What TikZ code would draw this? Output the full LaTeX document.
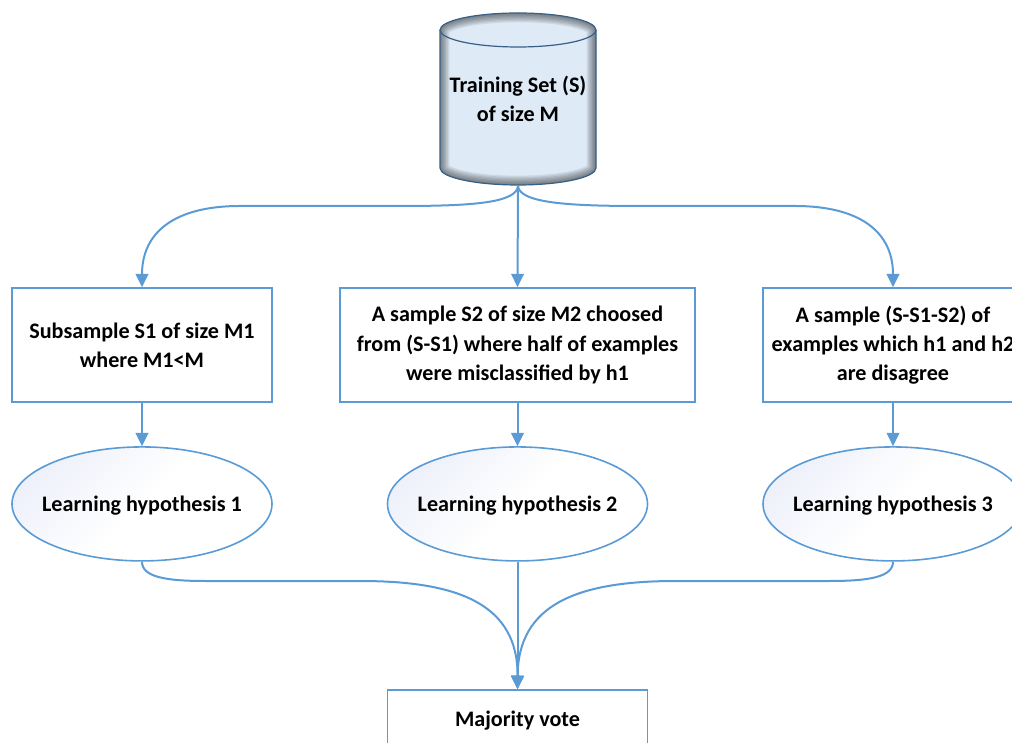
\documentclass[tikz,border=0pt]{standalone}
\usepackage{fontspec}
\setmainfont{Carlito}
\usetikzlibrary{arrows.meta, positioning, shapes.geometric}
\definecolor{linkcolor}{RGB}{91,155,213}
\definecolor{drumcolor}{RGB}{222,234,246}
\definecolor{drumline}{RGB}{55,96,135}
\definecolor{hypcolor}{RGB}{238,241,250}

\begin{document}
\begin{tikzpicture}[x=0.75pt, y=0.75pt,
    % Styles
    label text/.style={font=\fontsize{16.6}{21.8}\selectfont\bfseries, align=center, text=black,
        execute at begin node={\rule{0pt}{14.5pt}}},
    sample box/.style={draw=linkcolor, line width=1.2pt, fill=white, minimum height=85.5pt, inner sep=0, label text},
    three lines/.style={execute at begin node={\rule{0pt}{18.2pt}}},
    hyp ellipse/.style={ellipse, draw=linkcolor, line width=1.2pt, minimum width=195pt, minimum height=85.5pt,
        inner ysep=0, inner xsep=-8pt, label text, left color=hypcolor, right color=white, middle color=white, shading angle=45},
    link/.style={draw=linkcolor, line width=1.5pt, -{Triangle[length=10pt, width=9.5pt]}},
    drum line/.style={draw=drumline, line width=0.9pt},
    drum box/.style={minimum width=117pt, minimum height=129pt, inner sep=0, label text, execute at begin node={}},
]
    \path[use as bounding box, clip] (0,0) rectangle (1012,742);

    % === Training set ===
    \begin{scope}[shift={(518,643)}]
        \fill[drumcolor] (-58.5pt,-51.75pt) arc[start angle=180, end angle=360, x radius=58.5pt, y radius=12.75pt]
            -- (58.5pt,51.75pt) arc[start angle=0, end angle=180, x radius=58.5pt, y radius=12.75pt] -- cycle;
        % Inner shadow along the outline
        \begin{scope}
            \clip (-58.5pt,-51.75pt) arc[start angle=180, end angle=360, x radius=58.5pt, y radius=12.75pt]
                -- (58.5pt,51.75pt) arc[start angle=0, end angle=180, x radius=58.5pt, y radius=12.75pt] -- cycle;
            \foreach \w in {2,4,...,14} {
                \draw[black, opacity=0.08, line width=\w pt]
                    (-58.5pt,-51.75pt) arc[start angle=180, end angle=360, x radius=58.5pt, y radius=12.75pt]
                    -- (58.5pt,51.75pt) arc[start angle=0, end angle=180, x radius=58.5pt, y radius=12.75pt] -- cycle;
            }
        \end{scope}
        \draw[drum line] (-58.5pt,-51.75pt) arc[start angle=180, end angle=360, x radius=58.5pt, y radius=12.75pt]
            -- (58.5pt,51.75pt) arc[start angle=0, end angle=180, x radius=58.5pt, y radius=12.75pt] -- cycle;
        \draw[drum line] (-58.5pt,51.75pt) arc[start angle=180, end angle=360, x radius=58.5pt, y radius=12.75pt];
    \end{scope}
    \node[drum box] (train-set) at (518,643) {Training Set (S)\\of size M};

    % === Samples ===
    \node[sample box, minimum width=195pt] (sample-1) at (142,397) {Subsample S1 of size M1\\where M1<M};
    \node[sample box, three lines, minimum width=266pt] (sample-2) at (517.5,397) {A sample S2 of size M2 choosed\\from (S-S1) where half of examples\\were misclassified by h1};
    \node[sample box, three lines, minimum width=195pt] (sample-3) at (893,397) {A sample (S-S1-S2) of\\examples which h1 and h2\\are disagree};

    % === Hypotheses, below the samples ===
    \node[hyp ellipse, below=32.5pt of sample-1] (hyp-1) {Learning hypothesis 1};
    \node[hyp ellipse, below=32.5pt of sample-2] (hyp-2) {Learning hypothesis 2};
    \node[hyp ellipse, below=32.5pt of sample-3] (hyp-3) {Learning hypothesis 3};

    % === Vote box, cut by the lower edge ===
    \node[sample box, minimum width=195pt, minimum height=43.5pt, below=95.5pt of hyp-2] (vote-box) {Majority vote};

    % Links from the training set
    \draw[link] (train-set.south) .. controls +(0,-18) and +(70,0) .. (400,536) -- (240,536)
        .. controls (175,536) and (142,510) .. (sample-1.north);
    \draw[link] (train-set.south) -- (sample-2.north);
    \draw[link] (train-set.south) .. controls +(0,-18) and +(-70,0) .. (640,536) -- (795,536)
        .. controls (860,536) and (893,510) .. (sample-3.north);

    % Links from samples to hypotheses
    \draw[link] (sample-1) -- (hyp-1);
    \draw[link] (sample-2) -- (hyp-2);
    \draw[link] (sample-3) -- (hyp-3);

    % Links from hypotheses to the vote
    \draw[link] (hyp-1.south) .. controls +(0,-15) and +(-40,0) .. (205,161) -- (360,161)
        .. controls (460,161) and (518,137) .. (vote-box.north);
    \draw[link] (hyp-2.south) -- (vote-box.north);
    \draw[link] (hyp-3.south) .. controls +(0,-15) and +(40,0) .. (830,161) -- (676,161)
        .. controls (576,161) and (518,137) .. (vote-box.north);
\end{tikzpicture}
\end{document}
